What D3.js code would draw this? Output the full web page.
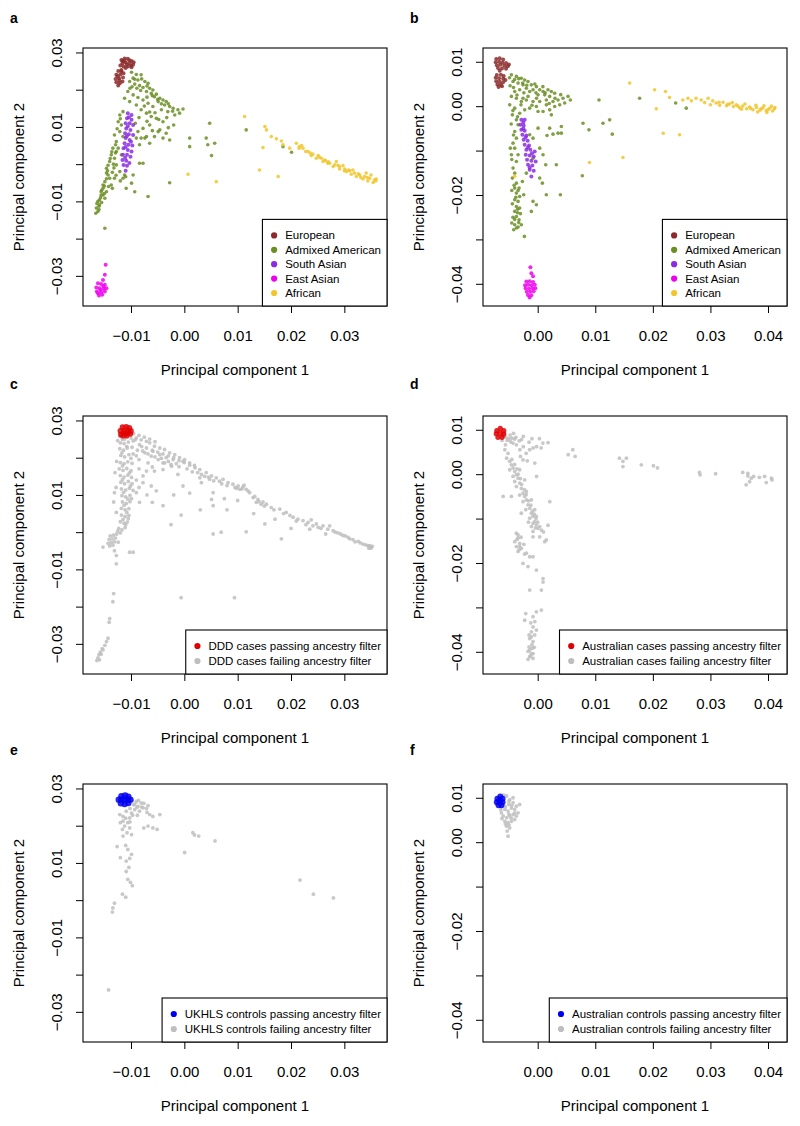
<!DOCTYPE html>
<html><head><meta charset="utf-8">
<script src="https://cdn.jsdelivr.net/npm/d3@7"></script>
<style>
body{margin:0;background:#fff;}
text{font-family:"Liberation Sans",Arial,Helvetica,sans-serif;fill:#000;}
</style></head><body>
<svg id="chart" width="800" height="1126"></svg>
<script>
// ---- DATA (PC1, PC2 in units of 0.001) ----
const K = 1e-3;
// Panel a (1000 Genomes, projection 1)
const euroA=[[-11.8,28.0],[-11.2,28.4],[-10.6,28.3],[-9.9,27.7],[-9.5,27.4],[-11.6,27.1],[-11.0,27.4],[-10.3,27.1],[-9.6,26.7],[-12.0,26.5],[-11.4,26.2],[-10.6,26.2],[-9.9,26.0],[-11.0,25.8],[-11.6,27.7],[-10.3,27.9],[-10.8,26.8],[-11.3,27.8],[-10.0,26.5],
[-12.4,25.0],[-11.8,25.3],[-12.75,24.0],[-12.0,24.1],[-11.4,24.4],[-12.9,22.9],[-12.25,23.1],[-11.5,23.25],[-12.75,22.0],[-12.1,21.7],[-11.6,22.2],[-12.4,21.1],[-11.8,24.9],[-12.5,23.6],[-12.2,22.5]];
const admixA=[[-9.9,24.7],[-9.0,24.1],[-8.1,24.0],[-9.6,23.1],[-8.7,22.6],[-7.4,22.2],[-6.8,21.7],[-10.25,22.2],[-9.3,21.5],[-8.4,21.1],[-7.75,20.6],[-6.5,20.4],[-5.9,19.9],[-7.1,19.5],[-6.2,19.0],[-5.25,18.8],[-5.6,18.1],[-4.6,17.7],[-4.0,17.25],[-3.4,16.8],[-4.9,16.8],[-3.7,15.9],[-2.75,15.5],[-2.1,15.0],[-1.2,14.6],[-0.25,14.8],[-0.9,13.7],[-1.8,13.2],[-3.1,14.1],[-4.3,14.6],[-5.9,15.5],[-6.8,16.35],[-7.75,17.25],[-8.7,17.9],[-9.6,18.6],[-10.6,19.5],[-11.2,17.7],[-10.25,16.8],[-9.0,15.9],[-8.1,14.6],[-7.1,13.7],[-6.2,12.8],[-5.25,12.3],[-4.0,11.4],[-6.5,10.5],[-4.6,9.2],[-3.4,8.3],[-4.0,7.0],[-2.75,6.5],[-5.6,7.4],[-6.5,5.6],[-7.4,7.0],[-8.4,5.2],[-8.7,8.75],[-7.75,9.6],
[-11.5,14.1],[-12.1,13.2],[-12.4,11.4],[-13.1,7.85],[-12.75,6.1],[-13.4,4.3],[-13.7,2.5],[-13.1,1.6],[-14.0,0.7],[-14.6,-1.1],[-14.3,-2.9],[-14.9,-4.7],[-15.25,-6.5],[-15.6,-8.3],[-16.2,-10.0],[-16.5,-11.8],[-16.6,-13.2],[-15.9,-10.9],[-14.9,-9.15],[-14.6,-7.4],[-13.7,-5.6],[-13.1,-3.8],[-12.1,-2.0],[-14.0,-3.8],[-15.25,-5.6],[-15.9,-9.6],[-16.2,-12.7],[-15.25,-8.3],[-12.75,-0.2],[-11.8,2.5],[-12.4,4.3],[-11.8,10.5],[-11.5,7.4],[-8.4,0.24],[-7.75,0.24],[-9.6,-2.9],[-9.9,-5.1],[-9.3,-7.4],[-11.5,-3.8],[-11.2,-2.9],[-6.8,-8.7],[-14.9,-17.2],[-10.9,-6.5],
[-2.75,-5.0],[1.0,7.0],[1.0,4.7],[4.1,7.0],[4.75,11.0],[4.4,5.2],[5.7,5.6],[5.1,2.3],[11.6,9.2],[18.5,4.7],[20.1,3.2],
[-12.1,8.75],[-12.75,3.4],[-9.0,7.0],[-8.1,7.0],[-7.1,7.4],[-4.9,8.75],
[-15.6,-7.4],[-15.0,-7.9],[-16.0,-11.3],[-15.5,-10.3],[-14.2,-6.0],[-13.5,-2.2],[-14.4,-1.8],[-13.3,0.0],[-12.9,3.0],
[-9.3,22.8],[-8.0,22.9],[-7.0,21.0],[-8.2,19.8],[-6.0,18.4],[-7.0,18.0],[-5.0,17.4],[-4.3,16.2],[-3.0,16.2],[-2.2,14.2],[-8.9,20.4],[-9.8,20.8],[-10.2,20.4],[-7.5,15.6],[-6.5,14.0],[-5.5,13.8],[-4.8,12.0],[-3.3,12.5],[-8.5,12.5],[-9.2,11.0],[-7.0,11.5],[-2.0,10.5],[-3.0,9.8],[-6.0,9.0],
[-12.0,12.2],[-12.6,9.5],[-12.9,5.2],[-13.6,3.3],[-13.9,1.5],[-14.3,-0.3],[-14.6,-2.4],[-14.6,-3.9],[-15.0,-5.9],[-15.5,-7.0],[-15.7,-9.0],[-16.4,-10.6],[-16.0,-12.2],[-13.2,-1.0],[-12.8,-3.0],[-12.0,-4.5],[-11.0,-3.4],[-13.5,-6.5]];
const southA=[[-10.6,13.7],[-9.9,13.2],[-10.75,12.3],[-9.9,11.9],[-11.0,11.0],[-10.25,11.0],[-9.6,10.5],[-10.9,9.6],[-10.1,9.2],[-11.1,8.3],[-10.4,8.0],[-9.6,7.85],[-11.0,7.0],[-10.25,6.5],[-11.2,5.6],[-10.5,5.2],[-9.75,5.0],[-11.4,4.3],[-10.6,3.8],[-9.9,3.4],[-11.5,2.5],[-10.75,2.5],[-10.1,2.0],[-11.6,1.1],[-10.9,0.9],[-11.4,-0.2],[-10.75,-0.4],[-11.0,-1.8],[-10.4,12.6],[-10.6,10.2],[-10.8,7.5],[-10.0,6.0],[-11.0,4.6],[-11.1,1.7],[-10.3,0.3]];
const eastA=[[-14.75,-27.05],[-14.9,-29.7],[-15.25,-31.1],[-16.2,-32.0],[-15.6,-32.2],[-14.9,-32.4],[-16.5,-33.1],[-15.9,-33.3],[-15.1,-33.5],[-14.6,-33.3],[-16.4,-34.2],[-15.6,-34.4],[-14.9,-34.2],[-16.0,-35.3],[-15.4,-35.1],[-15.7,-33.8],[-16.2,-34.7],[-15.2,-32.8]];
const afrA=[[11.3,12.8],[15.1,10.1],[15.4,9.2],[16.3,7.4],[17.25,6.8],[18.2,6.2],[14.75,4.45],[14.1,-1.55],[17.6,-3.3],[6.0,-4.7],[0.7,-2.7],
[21.0,5.6],[21.6,4.7],[22.25,4.3],[23.2,3.4],[24.1,2.7],[25.1,2.3],[25.7,1.6],[26.3,1.1],[27.25,0.24],[28.2,-0.2],[29.1,-0.65],[30.1,-1.3],[31.0,-1.8],[31.9,-2.4],[32.9,-2.9],[33.8,-3.3],[34.75,-3.8],[35.7,-4.2],[35.4,-4.9],[34.4,-4.5],[33.5,-4.0],[32.25,-3.3],[31.3,-2.7],[30.4,-2.0],[29.1,-1.3],[27.9,-0.65],[26.9,0.24],[26.0,0.7],[24.75,1.6],[23.8,2.3],[22.75,3.4],[21.5,4.3],[28.5,0.7],[29.75,-0.4],[31.6,-1.55],[34.1,-2.4],[35.0,-2.9],[36.0,-4.0],[18.5,5.2],[19.75,4.3],
[22.0,5.0],[23.6,3.0],[25.3,1.9],[27.0,0.6],[28.8,-0.3],[30.8,-1.6],[32.6,-2.6],[34.3,-3.6],[35.9,-4.5],[33.1,-3.6],[30.0,-1.8],[26.5,0.9]];

// Panel b (1000 Genomes, projection 2)
const euroB=[[-7.2,10.6],[-6.6,10.8],[-6.0,10.5],[-7.3,9.9],[-6.7,10.0],[-6.1,9.8],[-5.5,9.7],[-5.0,9.4],[-7.1,9.2],[-6.5,9.3],[-5.8,9.1],[-5.2,9.0],[-6.9,8.6],[-6.2,8.5],[-5.5,8.4],[-6.6,8.0],
[-7.1,7.0],[-6.4,7.1],[-5.9,6.8],[-7.3,6.4],[-6.7,6.3],[-6.0,6.2],[-5.6,5.9],[-7.2,5.6],[-6.6,5.5],[-6.0,5.4],[-7.0,4.9],[-6.4,4.8],[-6.8,4.3],[-6.2,4.5]];
const admixB=[[-4.57,7.05],[-3.7,6.7],[-2.84,6.3],[-2.26,5.9],[-4.28,5.55],[-3.41,5.2],[-2.55,4.8],[-1.68,5.55],[-1.1,4.8],[-0.23,4.4],[-0.81,3.7],[0.35,3.7],[0.93,3.3],[1.79,3.7],[2.37,3.3],[2.95,2.9],[2.08,2.2],[1.22,2.55],[0.06,2.55],[-1.39,3.3],[-1.97,4.05],[-3.13,3.7],[-3.99,3.3],[-4.57,2.2],[-3.7,1.8],[-2.84,1.05],[-1.97,1.4],[-0.81,1.05],[0.35,1.05],[1.5,1.4],[2.66,1.05],[3.53,1.4],[4.4,1.8],[5.27,2.2],[5.67,1.4],[4.69,0.7],[3.82,0.3],[2.95,-0.08],[2.08,-0.83],[0.93,-1.2],[-0.23,-0.08],[-1.39,-0.45],[-2.26,-0.83],[-3.13,-1.58],[-4.4,-1.95],[-3.99,-0.45],[-4.86,0.3],[-2.55,1.8],[-1.68,2.2],[0.06,-1.2],[1.5,0.3],[2.37,-1.95],
[10.65,1.4],[7.87,-3.83],[8.9,-5.33],[11.34,-3.83],[12.5,-3.08],[12.96,-6.3],[7.75,-15.68],[17.7,1.8],[23.96,0.7],[25.8,-0.45],[4.11,-6.08],[3.53,-6.08],[2.66,-6.3],[1.62,-6.6],
[-3.7,-3.08],[-3.41,-4.2],[-3.99,-5.7],[-3.7,-7.2],[-4.28,-8.33],[-3.99,-9.45],[-4.57,-10.95],[-3.7,-12.45],[-4.28,-13.95],[-3.99,-15.08],[-4.4,-16.2],[-3.7,-17.33],[-3.99,-18.45],[-3.24,-18.45],[-3.7,-19.58],[-3.13,-20.33],[-3.99,-21.08],[-3.41,-21.45],[-3.7,-22.58],[-3.13,-22.95],[-3.99,-23.7],[-3.7,-24.83],[-3.24,-25.58],[-3.99,-26.7],[-3.7,-27.45],[-4.17,-27.83],[-2.84,-26.7],[-2.31,-29.33],[-0.81,-21.45],[-0.23,-22.2],[-1.1,-23.7],[0.35,-16.2],[0.81,-17.33],[1.5,-19.95],[3.94,-19.95],[1.39,-13.2],[3.24,-13.2],[0.35,-9.45],[0.93,-10.95],[-1.39,-6.45],[-0.81,-7.2],[0.06,-4.95],[2.08,-4.95],[4.11,-4.58],[-2.43,-19.95],[-2.66,-16.95],[-1.97,-15.08],[-4.75,-9.45],[-3.41,-10.95],[-0.81,-11.7],
[-3.5,-24.0],[-4.0,-25.5],[-3.3,-26.2],[-3.8,-20.5],[-3.5,-23.2],
[-4.9,6.4],[-4.0,6.0],[-3.3,6.2],[-2.6,5.2],[-1.9,4.7],[-0.5,5.0],[0.9,4.4],[1.3,3.0],[-0.3,3.0],[-2.4,3.0],[-3.6,2.5],[-4.2,4.2],[-4.8,4.6],[-0.2,1.8],[3.0,1.8],[4.0,2.6],[2.0,0.6],[-1.0,0.2],[-2.9,0.3],[-4.3,-1.0],[-3.5,-2.4],[-4.6,-4.0],[-4.2,-6.5],[-4.5,-12.0],[-4.1,-17.8],[-4.5,-19.0],[-3.4,-19.0],[-4.4,-22.0],[-3.0,-24.2],[-4.3,-25.0],[-4.5,-26.3],[-3.4,-27.2]];
const southB=[[-2.84,-3.08],[-2.26,-3.08],[-3.01,-4.2],[-2.43,-4.35],[-2.84,-5.33],[-2.26,-5.55],[-2.66,-6.45],[-1.97,-6.6],[-2.43,-7.58],[-1.74,-7.8],[-2.26,-8.7],[-1.5,-8.85],[-1.97,-9.83],[-1.27,-9.83],[-0.52,-10.2],[-2.08,-10.95],[-1.39,-11.1],[-0.69,-11.33],[-1.85,-12.08],[-1.1,-12.3],[-0.35,-12.45],[-1.68,-13.2],[-0.93,-13.35],[-1.39,-14.33],[-0.69,-14.55],[-1.1,-15.83],[-2.5,-3.7],[-2.5,-5.0],[-2.1,-7.0],[-1.7,-9.3],[-1.0,-10.6],[-1.4,-13.8]];
const eastB=[[-1.27,-36.3],[-1.1,-37.6],[-0.81,-38.3],[-1.97,-39.5],[-1.39,-39.4],[-0.81,-39.6],[-2.2,-40.3],[-1.68,-40.2],[-1.1,-40.3],[-0.5,-40.2],[-2.1,-41.0],[-1.5,-41.1],[-0.9,-41.0],[-0.4,-41.0],[-1.9,-41.8],[-1.3,-41.8],[-0.7,-41.7],[-1.7,-42.5],[-1.1,-42.6],[-1.4,-43.1]];
const afrB=[[15.97,5.2],[20.3,3.7],[20.6,-0.6],[22.2,3.3],[22.9,1.95],[25.2,1.4],[26.1,1.8],[26.7,1.2],[27.5,1.8],[28.4,1.4],[29.6,1.8],[30.4,1.2],[21.8,-6.1],[24.65,-6.45],[14.8,-11.55],[9.0,-12.7],[-4.0,-15.8],
[31.0,0.7],[32.2,0.9],[33.3,0.5],[34.5,0.3],[35.6,0.0],[36.8,-0.2],[38.0,-0.3],[39.1,-0.4],[40.3,-0.5],[41.1,-0.6],[31.6,0.2],[32.8,0.1],[34.0,-0.1],[35.1,-0.4],[36.3,-0.6],[37.4,-0.8],[38.6,-0.9],[39.7,-1.0],[40.8,-1.1],[37.9,0.2],[39.3,0.1],[40.6,0.0],[36.0,0.5],[33.8,0.8],[38.2,-1.3],[39.8,-1.4],
[31.5,0.9],[33.0,0.4],[34.8,0.0],[37.0,-0.5],[38.8,-0.6],[40.0,-0.8],[41.2,-0.3],[35.4,-0.7],[29.0,0.8],[30.0,0.3]];

// Panel c (DDD cases)
const dddPass=[[-12.0,27.2],[-11.6,28.2],[-10.9,28.3],[-10.3,28.0],[-10.0,27.2],[-11.9,26.2],[-11.2,27.2],[-10.5,27.2],[-10.1,26.4],[-11.5,25.9],[-10.8,25.9],[-11.3,26.6],[-10.6,26.5]];
const dddFail=[[-12.1,25.7],[-11.2,25.0],[-10.0,25.3],[-12.5,24.6],[-12.0,24.0],[-11.3,23.8],[-10.5,24.2],[-9.6,24.5],[-12.1,22.4],[-11.4,22.0],[-10.7,22.6],[-9.8,22.8],[-11.9,20.6],[-11.2,20.2],[-10.4,20.8],[-9.6,21.0],[-12.0,18.7],[-11.3,18.4],[-10.6,18.9],[-9.8,18.5],[-12.2,17.0],[-11.5,16.6],[-10.8,17.1],[-10.0,16.5],[-12.0,15.2],[-11.3,14.8],[-10.6,15.3],[-9.9,14.7],[-11.9,13.4],[-11.2,13.0],[-10.5,13.6],[-9.8,13.0],[-11.8,11.6],[-11.0,11.3],[-10.3,11.8],[-9.6,11.2],[-11.7,9.8],[-11.0,9.5],[-10.2,9.9],[-11.6,8.1],[-10.9,7.7],[-10.2,8.2],[-11.8,6.4],[-11.1,6.0],[-10.4,6.3],[-11.8,4.6],[-11.1,4.2],[-10.4,4.5],[-12.0,2.8],[-11.3,2.4],[-10.7,2.7],[-12.3,1.0],[-11.7,0.6],[-11.1,1.2],
[-11.6,24.9],[-10.8,23.0],[-11.7,21.3],[-10.0,19.8],[-11.6,17.8],[-10.3,15.9],[-11.6,14.1],[-10.1,12.4],[-11.4,10.7],[-10.6,8.9],[-11.3,7.2],[-10.8,5.3],[-11.5,3.4],[-11.0,2.0],[-12.0,-0.2],[-12.5,0.3],[-10.5,3.6],[-9.9,9.0],[-13.0,16.0],[-12.8,12.0],[-12.7,19.0],
[-13.9,-1.0],[-13.3,-0.8],[-12.7,-0.5],[-14.1,-2.0],[-13.5,-1.8],[-12.9,-1.6],[-14.3,-3.0],[-13.7,-2.8],[-13.1,-2.6],[-14.0,-3.7],[-13.4,-3.5],
[-15.25,-4.0],[-13.1,-5.0],[-12.75,-6.3],[-12.75,-8.5],[-10.25,-5.4],[-12.4,-2.7],[-13.25,8.1],[-12.75,5.3],[-13.1,10.6],
[-13.25,-16.5],[-13.4,-18.7],[-14.0,-23.2],[-14.1,-24.2],[-14.3,-28.5],[-14.6,-29.4],[-14.9,-30.4],[-15.4,-31.3],[-15.75,-32.2],[-16.0,-32.9],[-16.2,-33.8],[-15.9,-34.3],[-16.4,-34.5],[-15.25,-31.6],[-15.6,-32.8],
[-9.0,25.3],[-8.1,24.8],[-7.1,24.4],[-8.4,23.5],[-6.5,24.0],[-5.6,23.1],[-4.6,22.6],[-3.7,22.2],[-2.75,21.3],[-1.8,20.8],[-0.9,20.0],[0.06,19.5],[1.0,18.6],[1.9,17.9],[-3.4,20.0],[-2.1,19.5],[-4.6,20.8],[-5.9,21.7],[-7.1,22.6],[-7.4,21.3],[-6.2,20.4],[-4.9,19.5],[-3.7,18.6],[-1.5,18.4],[-0.25,19.0],[-6.8,18.6],[-7.75,15.1],[-5.6,16.4],[-4.0,16.8],[-7.75,13.3],[-6.2,12.4],[-5.25,11.1],[-4.0,7.1],[-0.6,4.6],[-0.25,12.4],[2.9,16.8],[3.2,15.5],[4.1,16.0],[5.1,15.1],[6.0,14.6],[4.75,14.2],[6.6,13.7],[7.25,14.2],[8.2,13.3],[9.1,12.9],[10.1,12.4],[11.0,12.2],[11.6,11.5],[10.4,11.5],[9.5,12.0],[12.25,10.6],[12.9,9.3],[13.8,8.8],[14.75,8.1],[15.4,7.5],[14.4,7.5],[13.5,8.0],[16.3,6.6],[17.9,6.2],[19.1,5.3],[20.4,4.0],[21.3,3.5],[22.25,3.1],[23.2,2.6],[24.1,1.7],[25.1,1.3],[26.0,1.7],[26.9,0.8],[27.9,0.4],[28.8,-0.2],[29.75,-0.9],[30.7,-1.4],[31.6,-2.0],[32.6,-2.5],[33.5,-3.2],[34.4,-3.6],[34.9,-4.0],[35.25,-3.8],[34.6,-4.3],[24.75,2.2],[23.5,0.8],[27.25,1.7],[5.4,10.6],[5.1,8.8],[3.2,13.3],[5.4,7.1],[6.9,0.0],[5.4,-0.5],[11.6,0.1],[15.1,2.2],[18.2,-1.8],[-0.6,-17.6],[9.4,-17.6],[-4.0,18.6],[-2.4,17.7],[2.9,14.6],[-1.2,15.5],[-7.1,16.4],[-9.0,10.6],[-8.4,8.0],[-9.6,-5.4],
[-9.5,26.5],[-8.5,26.0],[-7.5,25.5],[-6.5,25.0],[-5.5,24.3],[-9.2,24.8],[-8.0,23.0],[-6.0,22.0],[-5.0,21.5],[-4.0,21.0],[-3.0,20.5],[-2.0,20.0],[-1.0,19.2],[0.0,18.7],[1.0,18.0],[2.0,17.3],[-8.8,22.0],[-7.8,21.8],[-6.8,21.0],[-5.5,20.2],[-4.3,19.8],[-3.0,19.0],[-2.5,18.2],[-1.0,17.6],[0.5,17.0],[1.5,16.2],[-6.0,17.5],[-8.5,19.5],[-9.0,20.5],[-8.5,17.0],[-9.0,14.0],[-8.5,12.0],[-7.0,10.0],[-6.0,8.0],[-2.0,10.0],[1.0,10.5],[2.5,16.0],[3.8,15.0],[4.5,14.8],[5.5,13.8],[7.0,13.0],[8.0,12.5],[9.8,11.8],[10.8,11.6],[11.2,12.6],[12.0,11.0],[13.2,9.6],[14.0,8.2],[15.0,7.0],[16.8,6.0],[18.6,5.0],[19.8,4.5],[21.0,3.0],[22.8,2.0],[25.6,1.0],[28.3,0.0],[29.3,-0.5],[30.2,-1.0],[31.0,-1.8],[32.0,-2.6],[33.0,-2.9],[34.0,-3.4],[34.8,-3.6],[35.0,-4.3],[20.0,1.0],[17.0,3.5],[8.0,6.0],[13.0,5.0],[26.5,-0.5],[23.8,3.3],[7.5,9.0],[10.0,8.5],[3.0,6.0],[-2.5,2.0]];

// Panel d (Australian cases)
const ausCasePass=[[-7.1,9.8],[-6.5,10.3],[-5.9,9.8],[-7.2,9.1],[-6.5,9.2],[-5.9,9.0],[-6.9,8.3],[-6.2,8.3]];
const ausCaseFail=[[-6.0,8.5],[-5.5,8.3],[-5.0,8.0],[-4.5,8.1],[-4.0,7.9],[-5.3,7.6],[-6.2,7.6],[-4.7,7.3],[-3.8,8.3],
[-2.5,8.5],[-0.8,5.9],[-0.2,6.2],[0.9,7.0],[1.8,7.1],[0.6,5.9],[-2.0,4.7],[-1.4,5.5],[-3.1,5.5],[-3.7,6.6],[-2.5,6.2],[-0.5,2.5],[-0.2,-0.5],[2.1,-6.2],[5.3,4.4],[6.1,5.5],[6.5,4.0],[14.2,3.6],[14.8,2.9],[15.4,3.6],[14.8,1.7],[18.0,2.1],[20.1,1.9],[20.8,1.4],[28.1,0.4],[28.2,-0.15],[30.9,0.1],[35.6,0.4],[36.5,-0.4],[37.1,-0.9],[36.2,-2.4],[36.8,-1.7],[37.5,-0.5],[38.5,-0.7],[39.4,-0.5],[39.7,-1.9],[40.6,-0.9],[40.7,-1.3],[36.5,0.2],
[-5.7,5.5],[-5.15,4.7],[-5.4,3.6],[-4.86,2.9],[-4.57,2.1],[-4.28,1.4],[-4.86,1.0],[-3.99,0.6],[-3.7,-0.15],[-4.28,-0.5],[-3.41,-0.9],[-3.99,-1.65],[-3.13,-2.0],[-3.7,-2.8],[-2.84,-3.2],[-2.55,-4.3],[-3.13,-4.7],[-2.26,-5.0],[-1.97,-5.8],[-2.55,-6.2],[-1.68,-6.9],[-1.39,-7.7],[-2.08,-8.0],[-1.1,-8.8],[-0.81,-9.5],[-1.39,-9.9],[-0.52,-10.7],[-0.23,-11.4],[-1.1,-11.8],[0.06,-12.2],[0.64,-12.6],[-0.81,-12.9],[-3.7,-13.3],[-3.41,-14.4],[-3.99,-15.2],[-3.13,-15.6],[-3.7,-16.3],[-2.84,-16.7],[-3.41,-17.4],[-1.97,-17.8],[-1.39,-18.6],[-0.81,-18.6],[-2.55,-20.1],[-1.68,-20.8],[-0.23,-21.6],[0.93,-23.5],[1.22,-15.2],[1.5,-14.8],[0.93,-24.3],[-1.39,-26.1],[0.64,-26.1],[-2.26,-32.9],[-0.81,-32.1],[-0.23,-31.0],[0.64,-30.6],[-0.81,-34.4],[-1.1,-35.5],[-0.52,-36.2],[-1.39,-37.0],[-0.81,-37.7],[-1.5,-38.9],[-0.93,-39.2],[-1.68,-39.9],[-1.1,-40.4],[-1.39,-41.1],[-0.81,-41.5],[-1.68,-41.7],[-0.23,-35.1],[-2.08,-31.4],
[-4.57,-5.0],[0.35,-14.1],[-2.84,-8.8],[-6.0,-5.0],[-2.55,3.2],[-0.81,-14.1],[-3.13,1.0],[-2.26,-1.3],[-1.97,-3.9],[-1.1,-5.8],[-0.52,-8.0],[-0.23,-9.5],[0.35,-11.8],[-0.81,-11.1],[-3.41,-13.7],[-3.13,-16.3],[-1.1,-36.6],[-1.39,-39.6],[-0.81,-40.4],
[-5.8,9.2],[-4.8,8.8],[-4.3,7.0],[-5.6,6.6],[-3.2,7.5],[-2.8,7.8],[-4.2,9.2],[-1.5,7.2],[-1.0,8.0],[0.3,8.0],[-3.0,4.0],[-1.8,3.0],[-4.5,3.3],[-4.0,2.2],[-3.6,1.2],[-3.4,0.0],[-3.0,-1.0],[-2.8,-2.3],[-2.3,-3.5],[-2.0,-4.6],[-1.6,-6.0],[-1.2,-7.0],[-0.9,-8.3],[-0.6,-9.0],[-0.3,-10.0],[-1.6,-10.8],[0.0,-10.8],[-0.4,-12.1],[-2.9,-14.2],[-3.6,-14.7],[-3.2,-17.0],[-2.4,-15.8],[-2.3,-18.0],[1.8,-11.5],[1.0,-13.0],[-1.2,-33.5],[-0.5,-33.2],[-1.0,-38.4],[-1.2,-40.9],[-0.6,-39.0],[-1.5,-36.2]];

// Panel e (UKHLS controls)
const ukhlsPass=[[-12.3,27.0],[-11.8,27.9],[-11.1,28.1],[-10.5,27.8],[-10.1,27.0],[-11.9,26.0],[-11.2,25.8],[-10.5,26.1],[-11.2,27.0],[-10.6,27.0],[-11.8,27.0]];
const ukhlsFail=[[-9.0,26.5],[-8.1,26.1],[-8.7,25.2],[-7.75,24.8],[-9.3,24.3],[-8.4,23.9],[-7.1,24.6],[-9.9,23.4],[-10.9,23.9],[-11.5,22.5],[-10.25,22.1],[-6.5,23.0],[-5.9,22.5],[-4.6,23.0],[-7.6,19.4],[-6.8,19.9],[-5.9,19.4],[-5.1,19.0],[-11.5,21.2],[-10.6,20.8],[-11.2,19.9],[-10.25,19.4],[-12.0,20.8],[-11.6,19.0],[-10.75,18.1],[-9.9,17.6],[-11.5,17.2],[-12.6,14.4],[-11.0,14.7],[-10.6,13.6],[-9.9,12.3],[-10.25,11.2],[-10.9,10.5],[-12.0,11.4],[-10.4,8.8],[-10.9,7.7],[-10.6,5.6],[-10.1,4.8],[-9.75,3.9],[-11.6,1.6],[-11.0,0.8],[-13.1,-0.8],[-13.4,-2.1],[-13.5,-3.2],[1.6,18.1],[1.9,17.5],[2.7,17.2],[5.75,15.9],[0.06,12.8],[21.7,5.4],[24.2,1.6],[27.95,0.6],[-14.2,-24.1],
[-9.5,25.6],[-8.9,24.9],[-10.2,24.6],[-9.7,22.8],[-9.8,26.8],[-8.6,26.8],[-7.6,26.0],[-6.8,25.4],[-8.0,25.0],[-9.3,25.8],[-7.0,23.6],[-8.8,22.8],[-10.2,21.0],[-11.0,22.0],[-12.1,23.0]];

// Panel f (Australian controls)
const ausCtrlPass=[[-7.0,9.8],[-6.5,10.3],[-6.1,9.8],[-7.1,9.0],[-6.1,9.0],[-6.8,8.3],[-6.3,8.3],[-6.6,9.3]];
const ausCtrlFail=[[-5.4,10.4],[-4.86,9.6],[-4.28,8.9],[-3.7,8.1],[-3.99,7.4],[-3.41,6.6],[-4.57,7.7],[-5.15,7.0],[-5.7,7.4],[-6.3,6.6],[-6.0,5.9],[-5.4,5.5],[-4.86,5.9],[-4.28,6.2],[-3.7,5.9],[-5.7,4.7],[-5.15,4.4],[-4.57,4.7],[-5.4,3.6],[-4.86,3.2],[-5.3,2.5],[-5.15,1.35],[-3.13,8.5],[-4.28,10.0],[-5.0,8.5],[-6.1,8.1],[-3.99,5.1],
[-5.9,10.6],[-5.0,9.2],[-4.5,8.3],[-5.6,8.0],[-6.4,7.3],[-4.0,6.6],[-5.0,6.3],[-6.2,5.3],[-4.6,5.4],[-5.0,3.9],[-5.6,4.1]];

// ---- AXES / TICKS ----
const xDomL=[-0.019,0.038], yDomL=[-0.0381,0.0312];
const xDomR=[-0.0095,0.0433], yDomR=[-0.045,0.0131];
const xTicksL=[-0.01,0,0.01,0.02,0.03];
const xTicksR=[0,0.01,0.02,0.03,0.04];
const yTicksL=[0.03,0.02,0.01,0,-0.01,-0.02,-0.03];
const yLabelsL=[0.03,0.01,-0.01,-0.03];
const yTicksR=[0.01,0,-0.01,-0.02,-0.03,-0.04];
const yLabelsR=[0.01,0,-0.02,-0.04];

const C={euro:"#8B2A2A",admix:"#6B8E23",south:"#8A2BE2",east:"#EE00EE",afr:"#F2C62C",red:"#E00000",blue:"#0000F0",grey:"#BEBEBE"};

const popNames=["European","Admixed American","South Asian","East Asian","African"];

const W=304,H=258;
const colL=[83,483], rowT=[48,416,784];
const letterY=[23,389,755];

const panels=[
 {letter:"a",col:0,row:0,side:"L",series:[
   {d:admixA,c:C.admix,r:1.8},{d:afrA,c:C.afr,r:1.8},{d:euroA,c:C.euro,r:2.0},{d:southA,c:C.south,r:2.0},{d:eastA,c:C.east,r:2.0}],
   legend:{labels:popNames,colors:[C.euro,C.admix,C.south,C.east,C.afr],sp:14.4}},
 {letter:"b",col:1,row:0,side:"R",series:[
   {d:admixB,c:C.admix,r:1.8},{d:afrB,c:C.afr,r:1.8},{d:euroB,c:C.euro,r:2.0},{d:southB,c:C.south,r:2.0},{d:eastB,c:C.east,r:2.0}],
   legend:{labels:popNames,colors:[C.euro,C.admix,C.south,C.east,C.afr],sp:14.4}},
 {letter:"c",col:0,row:1,side:"L",series:[{d:dddFail,c:C.grey,r:1.9},{d:dddPass,c:C.red,r:2.8}],
   legend:{labels:["DDD cases passing ancestry filter","DDD cases failing ancestry filter"],colors:[C.red,C.grey],sp:15}},
 {letter:"d",col:1,row:1,side:"R",series:[{d:ausCaseFail,c:C.grey,r:1.9},{d:ausCasePass,c:C.red,r:2.6}],
   legend:{labels:["Australian cases passing ancestry filter","Australian cases failing ancestry filter"],colors:[C.red,C.grey],sp:15}},
 {letter:"e",col:0,row:2,side:"L",series:[{d:ukhlsFail,c:C.grey,r:1.9},{d:ukhlsPass,c:C.blue,r:3.2}],
   legend:{labels:["UKHLS controls passing ancestry filter","UKHLS controls failing ancestry filter"],colors:[C.blue,C.grey],sp:15}},
 {letter:"f",col:1,row:2,side:"R",series:[{d:ausCtrlFail,c:C.grey,r:1.9},{d:ausCtrlPass,c:C.blue,r:3.0}],
   legend:{labels:["Australian controls passing ancestry filter","Australian controls failing ancestry filter"],colors:[C.blue,C.grey],sp:15}}
];

const svg=d3.select("#chart");
const fmt=d3.format(".2f");

panels.forEach((p,i)=>{
  const left=colL[p.col], top=rowT[p.row];
  const L=p.side==="L";
  const x=d3.scaleLinear().domain(L?xDomL:xDomR).range([left,left+W]);
  const y=d3.scaleLinear().domain(L?yDomL:yDomR).range([top+H,top]);
  const g=svg.append("g");
  const cid="clip"+i;
  g.append("clipPath").attr("id",cid).append("rect").attr("x",left).attr("y",top).attr("width",W).attr("height",H);
  const pg=g.append("g").attr("clip-path",`url(#${cid})`);
  p.series.forEach(s=>{
    pg.append("g").selectAll("circle").data(s.d).join("circle")
      .attr("cx",d=>x(d[0]*K)).attr("cy",d=>y(d[1]*K)).attr("r",s.r)
      .attr("fill",s.c).attr("fill-opacity",0.85);
  });
  // x axis
  const xa=g.append("g").attr("transform",`translate(0,${top+H})`)
    .call(d3.axisBottom(x).tickValues(L?xTicksL:xTicksR).tickSize(7).tickFormat(fmt));
  xa.select(".domain").remove();
  xa.selectAll("line").attr("stroke","#000");
  xa.selectAll("text").attr("y",34.5).attr("dy",0).style("font-size","15px").attr("fill","#000");
  // y axis
  const labs=L?yLabelsL:yLabelsR;
  const ya=g.append("g").attr("transform",`translate(${left},0)`)
    .call(d3.axisLeft(y).tickValues(L?yTicksL:yTicksR).tickSize(7).tickFormat(d=>labs.includes(d)?fmt(d):""));
  ya.select(".domain").remove();
  ya.selectAll("line").attr("stroke","#000");
  ya.selectAll("text").attr("x",0).attr("y",0).attr("dy","0.35em").attr("text-anchor","middle")
    .attr("transform","translate(-26,0) rotate(-90)").style("font-size","15px").attr("fill","#000");
  // box
  g.append("rect").attr("x",left).attr("y",top).attr("width",W).attr("height",H)
    .attr("fill","none").attr("stroke","#000").attr("stroke-width",1.1);
  // titles
  g.append("text").attr("x",left+W/2).attr("y",top+H+69).attr("text-anchor","middle")
    .style("font-size","15px").text("Principal component 1");
  g.append("text").attr("transform",`translate(${left-59},${top+H/2}) rotate(-90)`).attr("text-anchor","middle")
    .style("font-size","15px").text("Principal component 2");
  g.append("text").attr("x",left-73).attr("y",letterY[p.row]).style("font-size","14px").style("font-weight","bold").text(p.letter);
  // legend
  const lg=p.legend;
  const n=lg.labels.length;
  const lh=16+(n-1)*lg.sp+13;
  const lgG=g.append("g");
  const bg=lgG.append("rect").attr("fill","#fff").attr("stroke","#000").attr("stroke-width",1.1);
  const texts=lgG.selectAll("text").data(lg.labels).join("text").style("font-size","11.5px").text(d=>d);
  let maxW=0; texts.each(function(){maxW=Math.max(maxW,this.getComputedTextLength());});
  const lw=22.7+maxW+6;
  const lx=left+W-lw, ly=top+H-lh;
  bg.attr("x",lx).attr("y",ly).attr("width",lw).attr("height",lh);
  texts.attr("x",lx+22.7).attr("y",(d,j)=>ly+16+j*lg.sp+4);
  lgG.selectAll("circle").data(lg.colors).join("circle").attr("cx",lx+11.7).attr("cy",(d,j)=>ly+16+j*lg.sp).attr("r",3.1).attr("fill",d=>d);
});
</script>
</body></html>
